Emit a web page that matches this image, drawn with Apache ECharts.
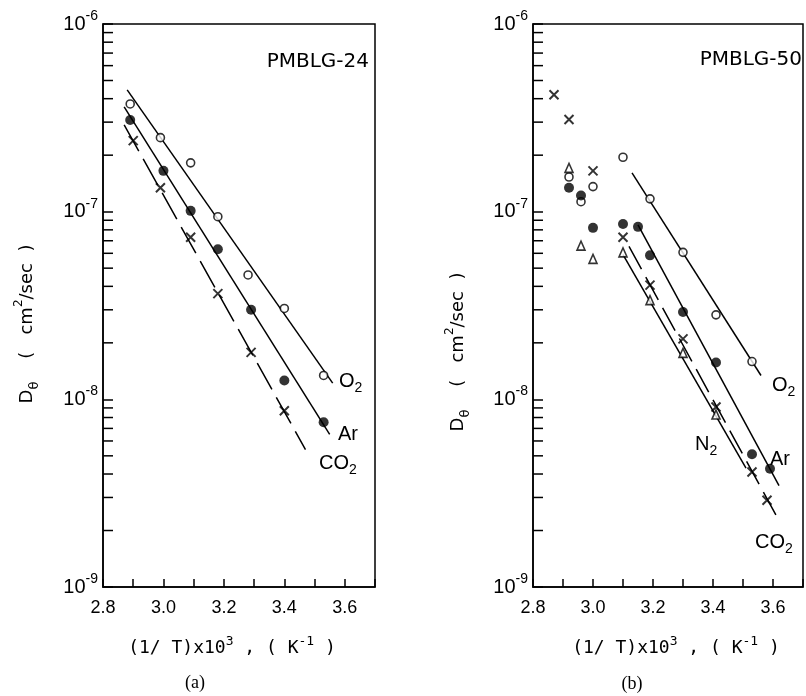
<!DOCTYPE html>
<html>
<head>
<meta charset="utf-8">
<script src="https://cdn.jsdelivr.net/npm/echarts@6/dist/echarts.min.js"></script>
<style>
html,body{margin:0;padding:0;background:#fff;}
#chart{width:806px;height:696px;}
</style>
</head>
<body>
<div id="chart"></div>
<script>
// ---------- Data ----------
// Panel (a) PMBLG-24
const a_O2_x  = [2.89, 2.99, 3.09, 3.18, 3.28, 3.40, 3.53];
const a_O2_y  = [3.75e-7, 2.48e-7, 1.82e-7, 9.4e-8, 4.6e-8, 3.05e-8, 1.34e-8];
const a_Ar_x  = [2.89, 3.00, 3.09, 3.18, 3.29, 3.40, 3.53];
const a_Ar_y  = [3.08e-7, 1.65e-7, 1.01e-7, 6.3e-8, 3.0e-8, 1.26e-8, 7.55e-9];
const a_CO2_x = [2.90, 2.99, 3.09, 3.18, 3.29, 3.40];
const a_CO2_y = [2.39e-7, 1.34e-7, 7.3e-8, 3.66e-8, 1.78e-8, 8.7e-9];
// fitted lines (end points)
const a_O2_fit_x  = [2.88, 3.56];
const a_O2_fit_y  = [4.46e-7, 1.22e-8];
const a_Ar_fit_x  = [2.87, 3.55];
const a_Ar_fit_y  = [3.62e-7, 6.5e-9];
const a_CO2_fit_x = [2.87, 3.47];
const a_CO2_fit_y = [2.9e-7, 5.4e-9];

// Panel (b) PMBLG-50
const b_CO2_x = [2.87, 2.92, 3.00, 3.10, 3.19, 3.30, 3.41, 3.53, 3.58];
const b_CO2_y = [4.2e-7, 3.1e-7, 1.65e-7, 7.3e-8, 4.06e-8, 2.1e-8, 9.1e-9, 4.1e-9, 2.9e-9];
const b_N2_x  = [2.92, 2.96, 3.00, 3.10, 3.19, 3.30, 3.41];
const b_N2_y  = [1.71e-7, 6.6e-8, 5.6e-8, 6.07e-8, 3.38e-8, 1.77e-8, 8.3e-9];
const b_O2_x  = [2.92, 2.96, 3.00, 3.10, 3.19, 3.30, 3.41, 3.53];
const b_O2_y  = [1.53e-7, 1.13e-7, 1.36e-7, 1.95e-7, 1.17e-7, 6.07e-8, 2.82e-8, 1.59e-8];
const b_Ar_x  = [2.92, 2.96, 3.00, 3.10, 3.15, 3.19, 3.30, 3.41, 3.53, 3.59];
const b_Ar_y  = [1.34e-7, 1.22e-7, 8.2e-8, 8.6e-8, 8.3e-8, 5.85e-8, 2.92e-8, 1.57e-8, 5.1e-9, 4.27e-9];
const b_O2_fit_x  = [3.13, 3.56];
const b_O2_fit_y  = [1.61e-7, 1.34e-8];
const b_Ar_fit_x  = [3.15, 3.62];
const b_Ar_fit_y  = [8.5e-8, 3.47e-9];
const b_CO2_fit_x = [3.12, 3.62];
const b_CO2_fit_y = [6.53e-8, 2.26e-9];
const b_N2_fit_x  = [3.10, 3.51];
const b_N2_fit_y  = [5.9e-8, 4.3e-9];

// axis ranges / ticks
const X_MIN = 2.8, X_MAX = 3.7, X_STEP = 0.1;
const Y_MIN = 1e-9, Y_MAX = 1e-6;
const MINOR_MANTISSAS = [2, 3, 4, 5, 6, 7, 8, 9];
const DECADES = [-9, -8, -7];

// ---------- Build ----------
function zip(xs, ys){ return xs.map((x,i)=>[x, ys[i]]); }
const minorVals = [];
DECADES.forEach(d => MINOR_MANTISSAS.forEach(m => minorVals.push(m * Math.pow(10, d))));

const BLACK = '#000';
const supRich = {
  b: {fontFamily:'Liberation Sans', fontSize:20, lineHeight:30, color:BLACK},
  s: {fontFamily:'Liberation Sans', fontSize:14, lineHeight:13, verticalAlign:'top', color:BLACK}
};

function xAxisDef(idx, pad){
  return {
    gridIndex: idx, type:'value', min:X_MIN, max:X_MAX, interval:X_STEP,
    axisLine:{show:true, onZero:false, lineStyle:{color:BLACK, width:1.5}},
    axisTick:{show:true, inside:true, length:8, lineStyle:{color:BLACK, width:1.5}},
    splitLine:{show:false},
    axisLabel:{
      interval:0, margin:12, color:BLACK, fontFamily:'Liberation Sans', fontSize:18,
      formatter: function(v){ const k = Math.round(v*10); return (k%2===0 && k<=36) ? (k/10).toFixed(1) : ''; }
    },
    name:'(1/ T)x10{s|3} , ( K{s|-1} )',
    nameLocation:'middle', nameGap:48,
    nameTextStyle:{
      fontFamily:'DejaVu Sans Mono', fontSize:18, lineHeight:26, color:BLACK, padding:pad,
      rich:{ s:{fontFamily:'DejaVu Sans Mono', fontSize:13, lineHeight:12, verticalAlign:'top', color:BLACK} }
    }
  };
}
function yAxisDef(idx){
  return {
    gridIndex: idx, type:'log', logBase:10, min:Y_MIN, max:Y_MAX,
    axisLine:{show:true, onZero:false, lineStyle:{color:BLACK, width:1.5}},
    axisTick:{show:true, inside:true, length:10, lineStyle:{color:BLACK, width:1.5}},
    splitLine:{show:false}, minorTick:{show:false},
    axisLabel:{
      margin:5, color:BLACK,
      formatter: function(v){ return '{b|10}{s|' + Math.round(Math.log10(v)) + '}'; },
      rich: supRich
    }
  };
}
function fitLine(idx, xs, ys, dashed){
  return {
    type:'line', xAxisIndex:idx, yAxisIndex:idx, data:zip(xs, ys), showSymbol:false, symbol:'none',
    lineStyle:{color:BLACK, width:1.5, type: dashed ? dashed : 'solid'}, z:2, silent:true, animation:false
  };
}
const X_PATH = 'path://M0,0L10,10M10,0L0,10';
function pts(idx, xs, ys, kind){
  const base = {type:'scatter', xAxisIndex:idx, yAxisIndex:idx, data:zip(xs, ys), z:5, silent:true, animation:false};
  if (kind === 'open') { base.symbol='circle'; base.symbolSize=8; base.itemStyle={color:'#fff', borderColor:BLACK, borderWidth:1.6}; }
  if (kind === 'filled') { base.symbol='circle'; base.symbolSize=10; base.itemStyle={color:BLACK}; }
  if (kind === 'x') { base.symbol=X_PATH; base.symbolSize=9; base.itemStyle={color:'rgba(0,0,0,0)', borderColor:BLACK, borderWidth:2}; }
  if (kind === 'tri') { base.symbol='triangle'; base.symbolSize=[8,9]; base.itemStyle={color:'#fff', borderColor:BLACK, borderWidth:1.6}; }
  return base;
}
function minorTicks(idx){
  return {
    type:'custom', xAxisIndex:idx, yAxisIndex:idx, silent:true, animation:false, z:3,
    data: minorVals.map(v => [X_MIN, v]),
    renderItem: function(params, api){
      const p = api.coord([api.value(0), api.value(1)]);
      return {type:'line', shape:{x1:p[0], y1:p[1], x2:p[0]+10, y2:p[1]}, style:{stroke:BLACK, lineWidth:1.5}};
    }
  };
}

function label(x, y, text, align, font){
  return {
    type:'text', x:x, y:y, silent:true,
    style:{
      text:text, fill:BLACK, font: font || '20px "Liberation Sans"',
      align: align || 'left', verticalAlign:'middle', textAlign: align || 'left', textVerticalAlign:'middle',
      rich:{
        sub:{fontFamily:'Liberation Sans', fontSize:14, lineHeight:12, verticalAlign:'bottom', fill:BLACK, color:BLACK},
        main:{fontFamily:'Liberation Sans', fontSize:20, lineHeight:28, fill:BLACK, color:BLACK}
      }
    }
  };
}
function yName(x, y){
  return {
    type:'text', x:x, y:y, rotation:Math.PI/2, silent:true,
    style:{
      text:'{m|D}{sub|θ}{m|    (   cm}{sup|2}{m|/sec  )}',
      fill:BLACK, font:'18px "DejaVu Sans"',
      align:'center', verticalAlign:'middle', textAlign:'center', textVerticalAlign:'middle',
      rich:{
        m:{fontFamily:'DejaVu Sans', fontSize:18, lineHeight:28, fill:BLACK, color:BLACK},
        sub:{fontFamily:'DejaVu Sans', fontSize:13, lineHeight:13, verticalAlign:'bottom', fill:BLACK, color:BLACK},
        sup:{fontFamily:'DejaVu Sans', fontSize:12, lineHeight:12, verticalAlign:'top', fill:BLACK, color:BLACK}
      }
    }
  };
}

const option = {
  backgroundColor:'#fff',
  animation:false,
  grid:[
    {left:103, top:24, width:272, height:563, show:true, borderColor:BLACK, borderWidth:1.5, backgroundColor:'transparent'},
    {left:533, top:24, width:272, height:563, show:true, borderColor:BLACK, borderWidth:1.5, backgroundColor:'transparent'}
  ],
  xAxis:[xAxisDef(0, [0,14,0,0]), xAxisDef(1, [0,0,0,16])],
  yAxis:[yAxisDef(0), yAxisDef(1)],
  series:[
    fitLine(0, a_O2_fit_x, a_O2_fit_y),
    fitLine(0, a_Ar_fit_x, a_Ar_fit_y),
    fitLine(0, a_CO2_fit_x, a_CO2_fit_y, [30,9]),
    pts(0, a_O2_x, a_O2_y, 'open'),
    pts(0, a_Ar_x, a_Ar_y, 'filled'),
    pts(0, a_CO2_x, a_CO2_y, 'x'),
    minorTicks(0),

    fitLine(1, b_O2_fit_x, b_O2_fit_y),
    fitLine(1, b_Ar_fit_x, b_Ar_fit_y),
    fitLine(1, b_N2_fit_x, b_N2_fit_y),
    fitLine(1, b_CO2_fit_x, b_CO2_fit_y, [26,9]),
    pts(1, b_O2_x, b_O2_y, 'open'),
    pts(1, b_Ar_x, b_Ar_y, 'filled'),
    pts(1, b_N2_x, b_N2_y, 'tri'),
    pts(1, b_CO2_x, b_CO2_y, 'x'),
    minorTicks(1)
  ],
  graphic:[
    label(369, 62, 'PMBLG-24', 'right', '20px "DejaVu Sans"'),
    label(802, 60, 'PMBLG-50', 'right', '20px "DejaVu Sans"'),
    label(339, 381, '{main|O}{sub|2}'),
    label(338, 434, '{main|Ar}'),
    label(319, 463, '{main|CO}{sub|2}'),
    label(772, 385, '{main|O}{sub|2}'),
    label(695, 444, '{main|N}{sub|2}'),
    label(770, 459, '{main|Ar}'),
    label(755, 542, '{main|CO}{sub|2}'),
    yName(27, 324),
    yName(458, 352),
    label(195, 683, '(a)', 'center', '18px "Liberation Serif"'),
    label(632, 684, '(b)', 'center', '18px "Liberation Serif"')
  ]
};

const chart = echarts.init(document.getElementById('chart'), null, {renderer:'canvas'});
chart.setOption(option);
</script>
</body>
</html>
